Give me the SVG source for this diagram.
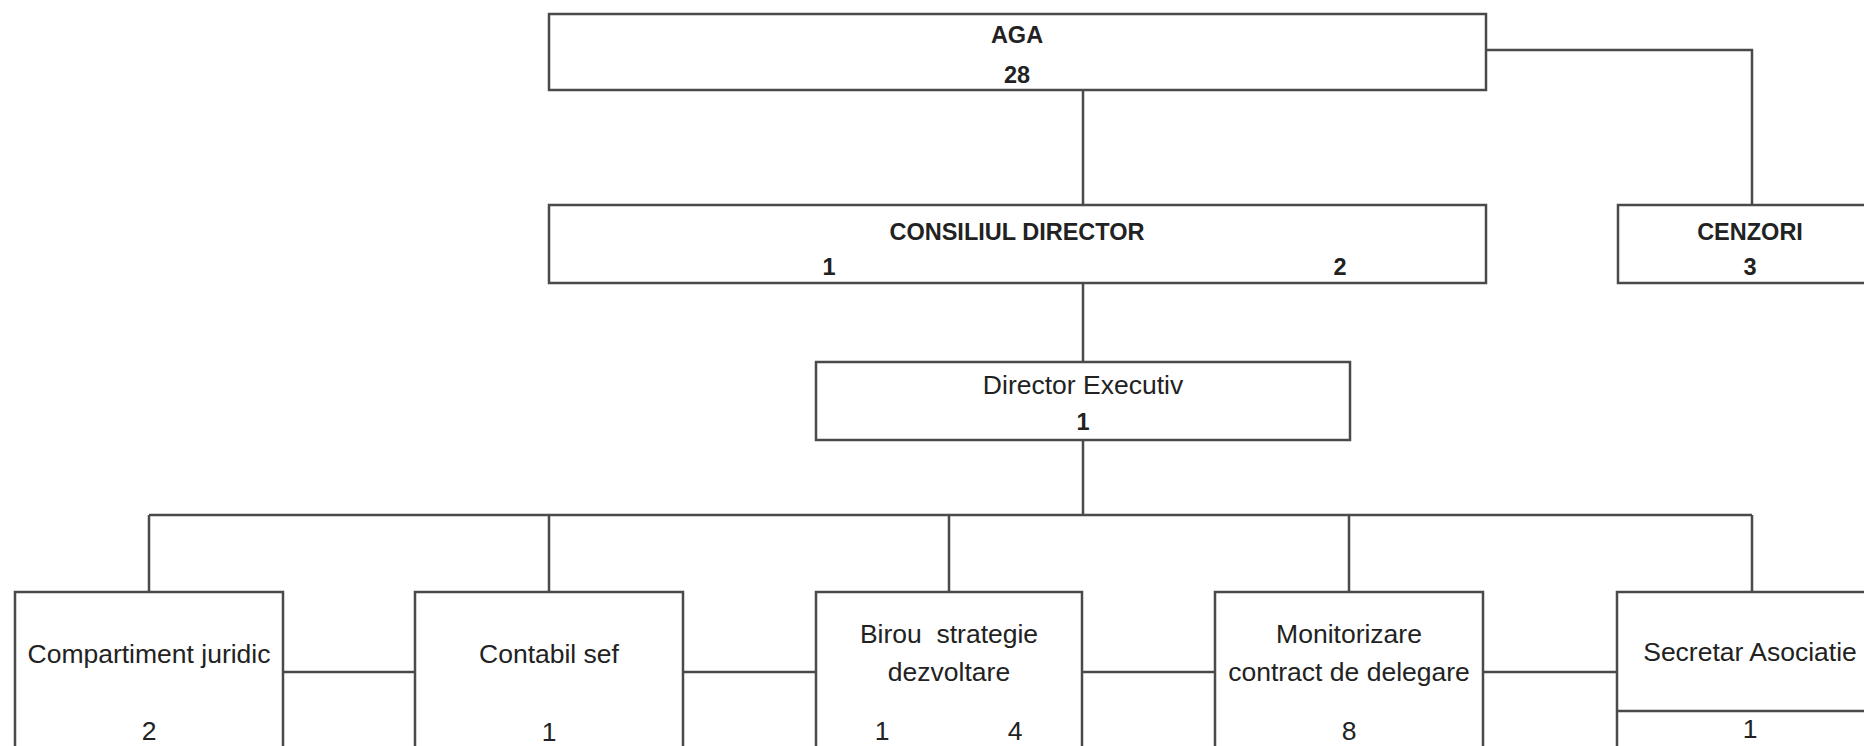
<svg xmlns="http://www.w3.org/2000/svg" width="1864" height="746" viewBox="0 0 1864 746">
<style>
.box{fill:#ffffff;stroke:#4a4a4a;stroke-width:2.5}
.ln{fill:none;stroke:#4a4a4a;stroke-width:2.5}
.t{font-family:"Liberation Sans",Arial,sans-serif;font-size:26.5px;fill:#222;text-anchor:middle}
.b{font-family:"Liberation Sans",Arial,sans-serif;font-size:23.5px;font-weight:bold;fill:#222;text-anchor:middle}
</style>
<rect width="1864" height="746" fill="#ffffff"/>
<g id="connectors">
<path class="ln" d="M1486 50 H1752 V205"/>
<path class="ln" d="M1083 90 V205"/>
<path class="ln" d="M1083 283 V362"/>
<path class="ln" d="M1083 440 V515"/>
<path class="ln" d="M149 515 H1752"/>
<path class="ln" d="M149 515 V592 M549 515 V592 M949 515 V592 M1349 515 V592 M1752 515 V592"/>
<path class="ln" d="M283 672 H415 M683 672 H816 M1082 672 H1215 M1483 672 H1617"/>
</g>
<g id="aga">
<rect class="box" x="549" y="14" width="937" height="76"/>
<text class="b" x="1017" y="43">AGA</text>
<text class="b" x="1017" y="83">28</text>
</g>
<g id="consiliul">
<rect class="box" x="549" y="205" width="937" height="78"/>
<text class="b" x="1017" y="240">CONSILIUL DIRECTOR</text>
<text class="b" x="829" y="275">1</text>
<text class="b" x="1340" y="275">2</text>
</g>
<g id="cenzori">
<rect class="box" x="1618" y="205" width="270" height="78"/>
<text class="b" x="1750" y="240">CENZORI</text>
<text class="b" x="1750" y="275">3</text>
</g>
<g id="director">
<rect class="box" x="816" y="362" width="534" height="78"/>
<text class="t" x="1083" y="394">Director Executiv</text>
<text class="b" x="1083" y="430">1</text>
</g>
<g id="juridic">
<rect class="box" x="15" y="592" width="268" height="170"/>
<text class="t" x="149" y="663">Compartiment juridic</text>
<text class="t" x="149" y="740">2</text>
</g>
<g id="contabil">
<rect class="box" x="415" y="592" width="268" height="170"/>
<text class="t" x="549" y="663">Contabil sef</text>
<text class="t" x="549" y="741">1</text>
</g>
<g id="birou">
<rect class="box" x="816" y="592" width="266" height="170"/>
<text class="t" x="949" y="643" xml:space="preserve">Birou  strategie</text>
<text class="t" x="949" y="681">dezvoltare</text>
<text class="t" x="882" y="740">1</text>
<text class="t" x="1015" y="740">4</text>
</g>
<g id="monitorizare">
<rect class="box" x="1215" y="592" width="268" height="170"/>
<text class="t" x="1349" y="643">Monitorizare</text>
<text class="t" x="1349" y="681">contract de delegare</text>
<text class="t" x="1349" y="740">8</text>
</g>
<g id="secretar">
<rect class="box" x="1617" y="592" width="270" height="170"/>
<path class="ln" d="M1617 711 H1887"/>
<text class="t" x="1750" y="661">Secretar Asociatie</text>
<text class="t" x="1750" y="738">1</text>
</g>
</svg>
